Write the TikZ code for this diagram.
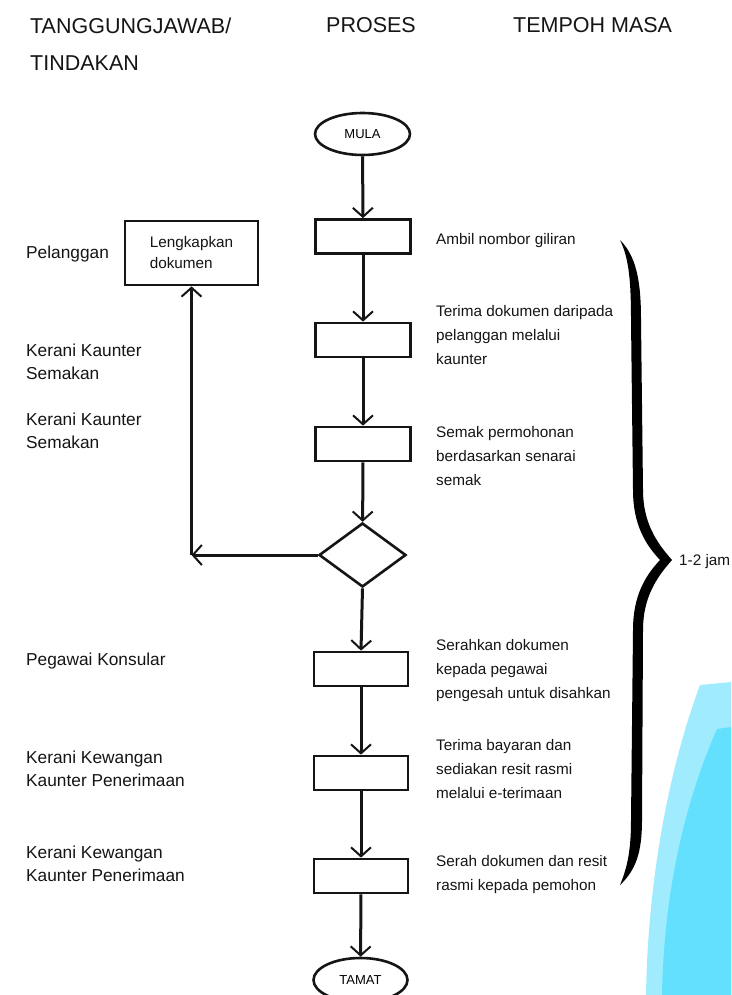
\documentclass[tikz,border=0pt]{standalone}
\usepackage{fontspec}
\setmainfont{Liberation Sans}
\usetikzlibrary{shapes.geometric,arrows.meta}
\definecolor{lightblue}{HTML}{A0ECFE}
\definecolor{deepblue}{HTML}{62E0FE}
\definecolor{ink}{HTML}{151515}
\begin{document}
\begin{tikzpicture}[x=1pt,y=-1pt,
 procbox/.style={draw=ink, line width=2.7pt, minimum width=95pt, minimum height=34pt, inner sep=0pt},
 term/.style={draw=ink, ellipse, line width=2.6pt, minimum width=95pt, minimum height=42pt, inner sep=0pt, font=\fontsize{13}{14}\selectfont},
 decision/.style={draw=ink, diamond, line width=2.6pt, minimum width=87pt, minimum height=64pt, inner sep=0pt},
 flow/.style={draw=ink, line width=3pt, -{Straight Barb[length=9pt,width=20pt,line width=2pt]}},
 desc/.style={anchor=west, inner sep=0pt, align=left, text=ink, font=\fontsize{15.3}{24}\selectfont},
 role/.style={anchor=west, inner sep=0pt, align=left, text=ink, font=\fontsize{17.3}{23}\selectfont},
 head/.style={anchor=west, inner sep=0pt, align=left, text=ink, font=\fontsize{21.5}{37}\selectfont},
]
\useasboundingbox (0,0) rectangle (731,995);
\fill[white] (0,0) rectangle (731,995);

% decorative blue shape
\fill[lightblue] (700,685) -- (731,682) -- (731,995) -- (646,995)
  .. controls (648,870) and (672,760) .. (700,685) -- cycle;
\fill[deepblue] (717,729) -- (731,727) -- (731,995) -- (662,995)
  .. controls (664,880) and (690,790) .. (717,729) -- cycle;

% headers
\node[head] (h1) at (30,44) {TANGGUNGJAWAB/\\TINDAKAN};
\node[head] (h2) at (326,25) {PROSES};
\node[head] (h3) at (513,25) {TEMPOH MASA};

% flow nodes
\node[term] (mula) at (362.5,134) {MULA};
\node[procbox] (b1) at (363,236.5) {};
\node[procbox] (b2) at (363,340) {};
\node[procbox] (b3) at (363,444) {};
\node[decision] (d) at (362.5,555) {};
\node[procbox, minimum width=94pt] (b4) at (361,669) {};
\node[procbox, minimum width=94pt] (b5) at (361,773) {};
\node[procbox, minimum width=94pt] (b6) at (361,876) {};
\node[term, minimum width=94pt, minimum height=44pt] (tamat) at (360.5,980) {TAMAT};

\node[draw=ink, line width=2.7pt, minimum width=133pt, minimum height=64pt, inner sep=0pt,
      align=left, text=ink, font=\fontsize{15.3}{21}\selectfont] (lk) at (191.5,253) {Lengkapkan\\dokumen};

\coordinate (corner) at (191.5,555);

% connectors
\draw[flow] (mula) -- (b1);
\draw[flow] (b1) -- (b2);
\draw[flow] (b2) -- (b3);
\draw[flow] (b3) -- (d);
\draw[flow] (d.south) -- (b4.north);
\draw[flow] (b4) -- (b5);
\draw[flow] (b5) -- (b6);
\draw[flow] (b6) -- (tamat);
\draw[flow] (d.west) -- (corner);
\draw[flow] (corner) -- (lk.south);

% role labels
\node[role] (r1) at (26,254) {Pelanggan};
\node[role] (r2) at (26,361.5) {Kerani Kaunter\\Semakan};
\node[role] (r3) at (26,430.5) {Kerani Kaunter\\Semakan};
\node[role] (r4) at (26,661) {Pegawai Konsular};
\node[role] (r5) at (26,768.5) {Kerani Kewangan\\Kaunter Penerimaan};
\node[role] (r6) at (26,863.5) {Kerani Kewangan\\Kaunter Penerimaan};

% descriptions
\node[desc] (t1) at (436,241) {Ambil nombor giliran};
\node[desc] (t2) at (436,335) {Terima dokumen daripada\\pelanggan melalui\\kaunter};
\node[desc] (t3) at (436,456) {Semak permohonan\\berdasarkan senarai\\semak};
\node[desc] (t4) at (436,671) {Serahkan dokumen\\kepada pegawai\\pengesah untuk disahkan};
\node[desc] (t5) at (436,769) {Terima bayaran dan\\sediakan resit rasmi\\melalui e-terimaan};
\node[desc] (t6) at (436,875) {Serah dokumen dan resit\\rasmi kepada pemohon};

% brace
\fill[black] (620,240) .. controls (636,256) and (641,280) .. (641,320)
  -- (643,490) .. controls (643,522) and (656,542) .. (672,560)
  .. controls (656,578) and (643,598) .. (643,630)
  -- (642,820) .. controls (642,852) and (636,870) .. (620,885)
  .. controls (628,866) and (631,848) .. (631,820)
  -- (633,630) .. controls (633,596) and (645,576) .. (660,560)
  .. controls (645,544) and (633,524) .. (633,490)
  -- (631,320) .. controls (631,282) and (629,258) .. (620,240) -- cycle;
\node[desc] (jam) at (679,562) {1-2 jam};
\end{tikzpicture}
\end{document}
